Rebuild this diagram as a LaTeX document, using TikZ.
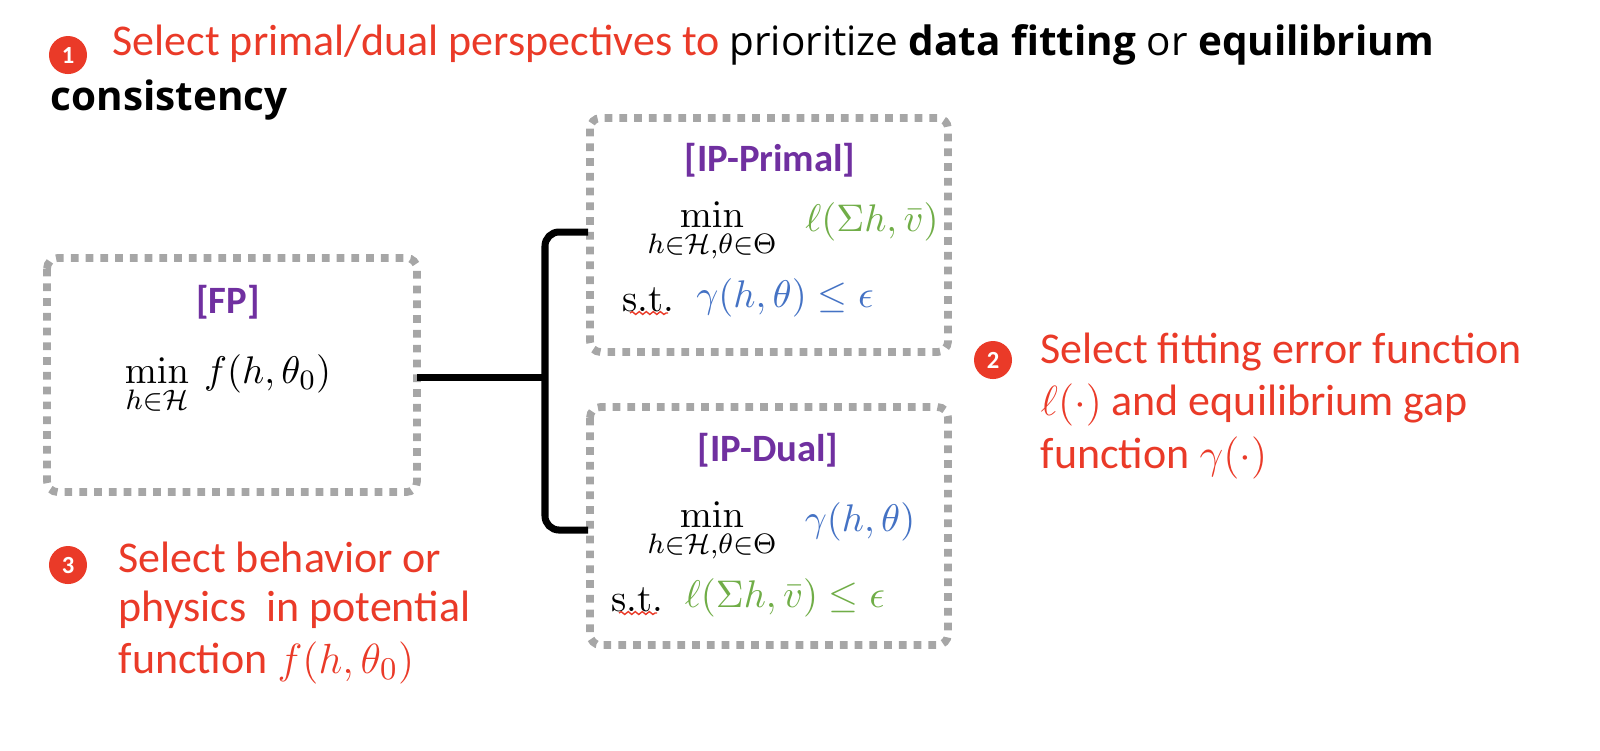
\documentclass[tikz,border=0pt]{standalone}
\usepackage{amsmath,amssymb}
\usepackage[no-math]{fontspec}
\setmainfont{Carlito}
\newfontfamily\blk{Open Sans}
\newfontfamily\serf{Latin Modern Roman}
\usetikzlibrary{decorations.pathmorphing}
\definecolor{myred}{RGB}{234,58,40}
\definecolor{mypurple}{RGB}{112,48,160}
\definecolor{mygreen}{RGB}{112,173,71}
\definecolor{myblue}{RGB}{68,114,196}
\begin{document}
\begin{tikzpicture}[x=0.01cm,y=-0.01cm,
  box/.style={draw=gray!70,dotted,line width=2.2pt,rounded corners=3pt},
  num/.style={circle,fill=myred,text=white,inner sep=0pt,minimum size=0.38cm,font=\fontsize{7}{8}\selectfont\bfseries},
  rt/.style={text=myred,anchor=west,inner sep=0pt,font=\fontsize{12.5}{14}\selectfont},
  ttl/.style={text=mypurple,font=\fontsize{11}{13}\selectfont\bfseries},
  mth/.style={font=\fontsize{11}{13}\selectfont,inner sep=0pt},
  wig/.style={draw=myred,line width=0.4pt,decorate,decoration={snake,amplitude=0.4pt,segment length=2pt}}]
\useasboundingbox (0,0) rectangle (1600,750);
% step 1
\node[num] (n1) at (68,55) {1};
\node[rt] (t1) at (112,45) {Select primal/dual perspectives to \textcolor{black}{\blk\fontsize{11.5}{14}\selectfont prioritize \textbf{data fitting} or \textbf{equilibrium}}};
\node[anchor=west,inner sep=0pt,font=\blk\fontsize{11.5}{14}\selectfont\bfseries] (t1b) at (50,100) {consistency};
% boxes
\draw[box] (47,258) rectangle (417,492);
\draw[box] (590,118) rectangle (948,352);
\draw[box] (590,407) rectangle (948,645);
\node[ttl] (fp) at (228,302) {[FP]};
\node[mth] (fpm) at (228,385) {$\displaystyle\min_{h\in\mathcal{H}}\ f(h,\theta_0)$};
\node[ttl] (ipp) at (770,160) {[IP-Primal]};
\node[mth] (ppmin) at (712,232) {$\displaystyle\min_{h\in\mathcal{H},\theta\in\Theta}$};
\node[mth,text=mygreen] (ppl) at (872,222) {$\ell(\Sigma h,\bar v)$};
\node[mth,font=\serf\fontsize{11}{13}\selectfont] (ppst) at (648,300) {s.t.};
\node[mth,text=myblue] (ppg) at (785,298) {$\gamma(h,\theta)\le\epsilon$};
\node[ttl] (ipd) at (768,450) {[IP-Dual]};
\node[mth] (pdmin) at (712,532) {$\displaystyle\min_{h\in\mathcal{H},\theta\in\Theta}$};
\node[mth,text=myblue] (pdg) at (860,522) {$\gamma(h,\theta)$};
\node[mth,font=\serf\fontsize{11}{13}\selectfont] (pdst) at (637,600) {s.t.};
\node[mth,text=mygreen] (pdl) at (785,598) {$\ell(\Sigma h,\bar v)\le\epsilon$};
\draw[wig] (630,313) -- (668,313);
\draw[wig] (619,613) -- (657,613);
% bracket
\coordinate (b0) at (417,377);
\coordinate (b1) at (545,377);
\draw[line width=2pt] (b0) -- (b1);
\draw[line width=2pt,rounded corners=4pt] (588,232) -- (545,232) -- (545,530) -- (588,530);
% step 2
\node[num] (n2) at (993,360) {2};
\node[rt] (t2a) at (1040,352) {Select fitting error function};
\node[rt] (t2b) at (1040,405) {$\ell(\cdot)$ and equilibrium gap};
\node[rt] (t2c) at (1040,458) {function $\gamma(\cdot)$};
% step 3
\node[num] (n3) at (68,565) {3};
\node[rt] (t3a) at (118,557) {Select behavior or};
\node[rt] (t3b) at (118,610) {physics\ \ in potential};
\node[rt] (t3c) at (118,663) {function $f(h,\theta_0)$};
\end{tikzpicture}
\end{document}
